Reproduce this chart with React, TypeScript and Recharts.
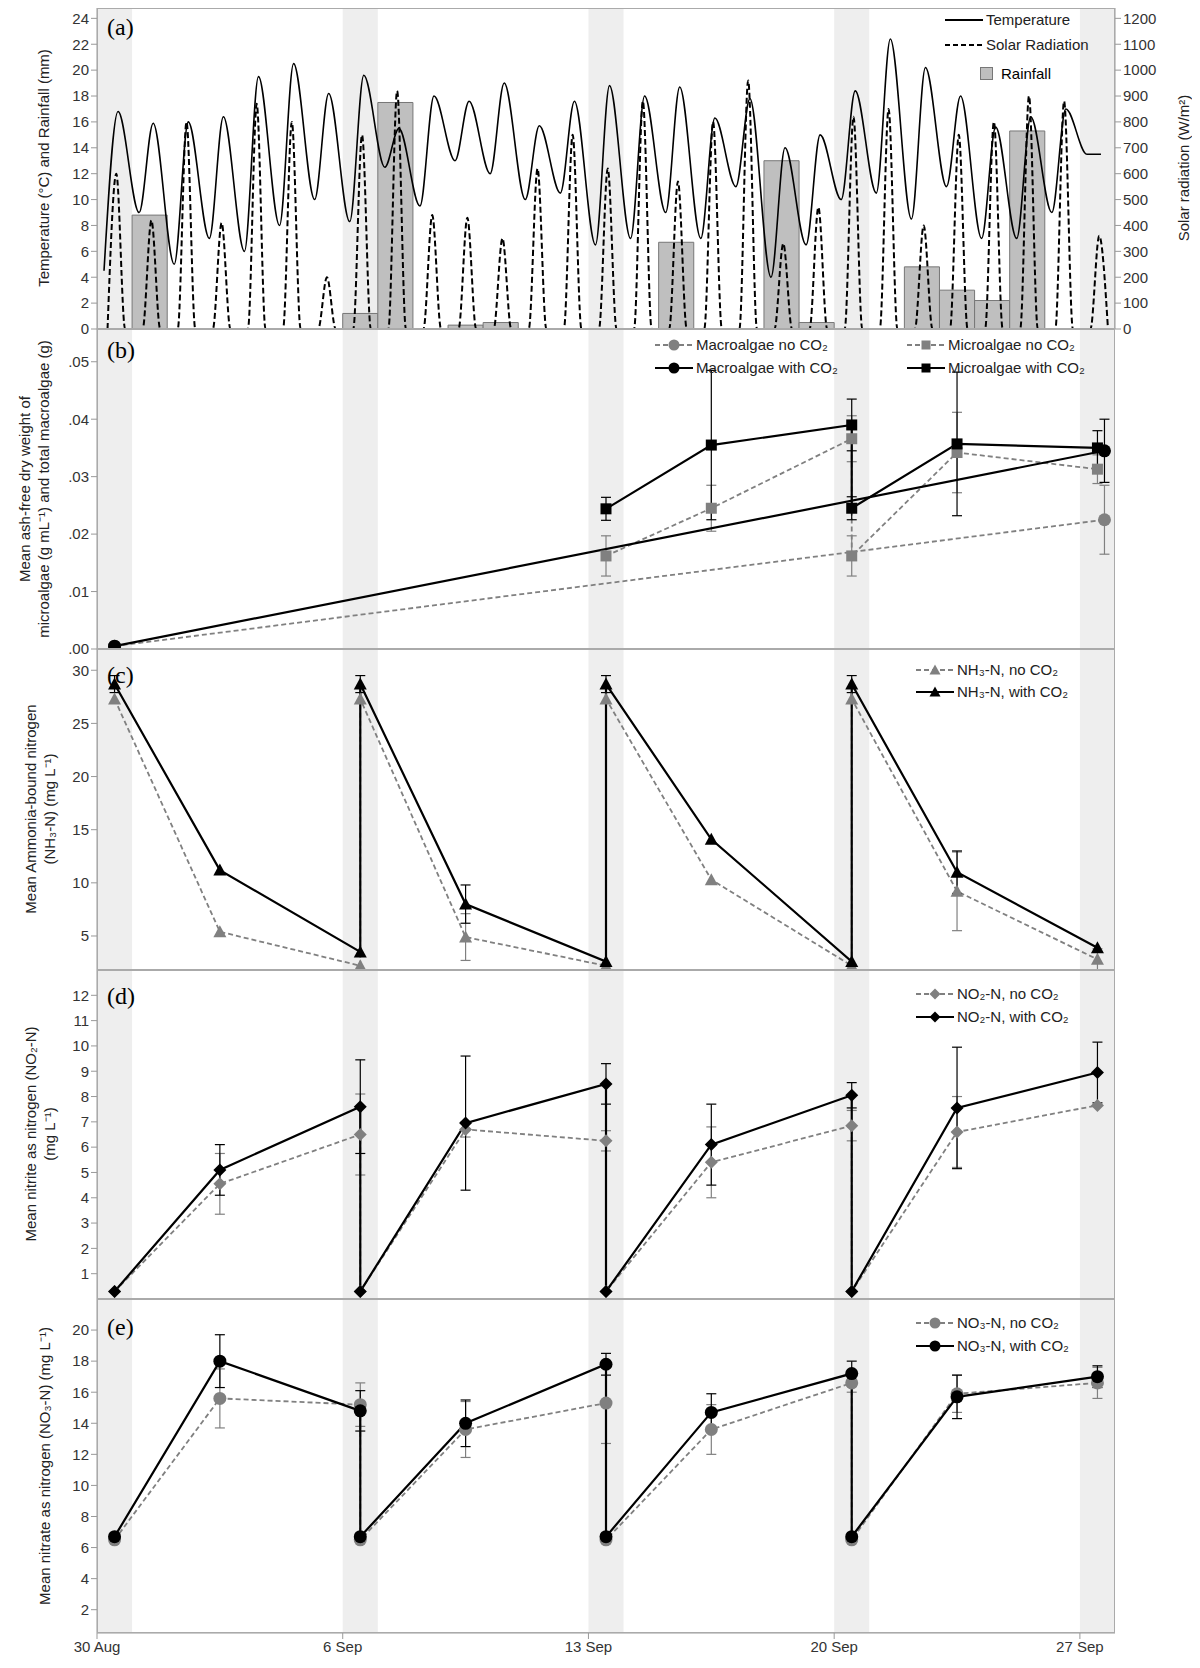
import React from 'react';
import {
  ComposedChart, LineChart, Line, XAxis, YAxis, ReferenceArea, ErrorBar,
} from 'recharts';

// shared time axis: days after 30 Aug
const dayTicks = [0, 7, 14, 21, 28];
const dayLabels = ['30 Aug', '6 Sep', '13 Sep', '20 Sep', '27 Sep'];
const bands = [[0, 1], [7, 8], [14, 15], [21, 22], [28, 29]];

// (a) weather, read per day
const tempMin = [4.5, 9, 5, 7, 6, 8, 10, 8.3, 12.5, 9.5, 13, 12, 10, 10.5, 6.5, 7, 9, 7, 11, 4, 6.5, 10, 10.5, 8.5, 11, 7, 7, 9, 13.5];
const tempMax = [16.8, 15.9, 16, 16.4, 19.5, 20.5, 18.2, 19.6, 15.5, 18, 17.6, 19, 15.7, 17.6, 18.8, 18, 18.7, 16.3, 17.8, 14, 15, 18.4, 22.4, 20.2, 18, 15.6, 16.4, 17, 13.5];
const solarPeak = [600, 420, 800, 410, 870, 800, 200, 750, 920, 440, 430, 350, 620, 750, 620, 880, 570, 800, 960, 330, 470, 820, 850, 400, 750, 800, 900, 880, 360];
const rainDays = [1, 7, 8, 10, 11, 16, 19, 20, 23, 24, 25, 26];
const rainMm = [8.8, 1.2, 17.5, 0.3, 0.5, 6.7, 13, 0.5, 4.8, 3, 2.2, 15.3];

// (b) biomass
const macroT = [0.5, 28.7];
const macroNo = [0.0005, 0.0225];
const macroNoErr = [0, 0.006];
const macroCo2 = [0.0005, 0.0345];
const macroCo2Err = [0, 0.0055];
const microT = [14.5, 17.5, 21.5, 21.5, 24.5, 28.5];
const microNo = [0.0162, 0.0245, 0.0366, 0.0162, 0.0342, 0.0313];
const microNoErr = [0.0035, 0.004, 0.004, 0.0035, 0.007, 0.0025];
const microCo2 = [0.0244, 0.0355, 0.039, 0.0245, 0.0357, 0.035];
const microCo2Err = [0.002, 0.013, 0.0045, 0.002, 0.0125, 0.003];

// (c)-(e) nitrogen, sampled twice on refill days
const sampT = [0.5, 3.5, 7.5, 7.5, 10.5, 14.5, 14.5, 17.5, 21.5, 21.5, 24.5, 28.5];
const nhNo = [27.3, 5.4, 2.2, 27.3, 4.9, 2.2, 27.3, 10.3, 2.2, 27.3, 9.2, 2.8];
const nhNoErr = [0, 0, 0, 0, 2.2, 0, 0, 0, 0, 0, 3.7, 1];
const nhCo2 = [28.7, 11.2, 3.5, 28.7, 8, 2.6, 28.7, 14.1, 2.6, 28.7, 11, 3.9];
const nhCo2Err = [0.8, 0, 0, 0.8, 1.8, 0, 0.8, 0, 0, 0.8, 2, 0];
const no2No = [0.3, 4.55, 6.5, 0.3, 6.7, 6.25, 0.3, 5.4, 6.85, 0.3, 6.6, 7.65];
const no2NoErr = [0, 1.2, 1.6, 0, 0.3, 0.4, 0, 1.4, 0.6, 0, 1.4, 0];
const no2Co2 = [0.3, 5.1, 7.6, 0.3, 6.95, 8.5, 0.3, 6.1, 8.05, 0.3, 7.55, 8.95];
const no2Co2Err = [0, 1, 1.85, 0, 2.65, 0.8, 0, 1.6, 0.5, 0, 2.4, 1.2];
const no3No = [6.5, 15.6, 15.2, 6.5, 13.6, 15.3, 6.5, 13.6, 16.6, 6.5, 15.9, 16.6];
const no3NoErr = [0, 1.9, 1.4, 0, 1.8, 2.6, 0, 1.6, 0.6, 0, 1.2, 1];
const no3Co2 = [6.7, 18, 14.8, 6.7, 14, 17.8, 6.7, 14.7, 17.2, 6.7, 15.7, 17];
const no3Co2Err = [0, 1.7, 1.3, 0, 1.5, 0.7, 0, 1.2, 0.8, 0, 1.4, 0.7];

const zip = (t: number[], v: number[], e: number[]) => t.map((x, i) => ({ t: x, v: v[i], e: e[i] }));

const weather: any[] = [];
tempMin.forEach((_, d) => {
  weather.push({ t: d + 0.2, temp: tempMin[d] });
  weather.push({ t: d + 0.3, solar: 0 });
  weather.push({ t: d + 0.55, solar: solarPeak[d] });
  weather.push({ t: d + 0.6, temp: tempMax[d] });
  weather.push({ t: d + 0.8, solar: 0 });
});

const W = 1192;
const LEFT = 89;
const RIGHT = 85;
const PAD = 10; // room below each plot so the lowest tick label is not clipped
const tick = { fontSize: 15, fill: '#333', fontFamily: 'Liberation Sans' };
const axisLine = { stroke: '#999' };
const GREY = '#808080';

const Bands = () => bands.map(([a, b]) => (
  <ReferenceArea key={a} x1={a} x2={b} fill="#eeeeee" fillOpacity={1} stroke="none" ifOverflow="hidden" />
));

const dot = (shape: string, color: string, size = 6.5) => (p: any) => {
  const { cx, cy, key } = p;
  if (cx == null || cy == null) return <g key={key} />;
  if (shape === 'circle') return <circle key={key} cx={cx} cy={cy} r={size} fill={color} />;
  if (shape === 'square') return <rect key={key} x={cx - size + 1} y={cy - size + 1} width={(size - 1) * 2} height={(size - 1) * 2} fill={color} />;
  if (shape === 'tri') return <polygon key={key} points={`${cx},${cy - size} ${cx - size},${cy + size - 1} ${cx + size},${cy + size - 1}`} fill={color} />;
  return <polygon key={key} points={`${cx},${cy - size} ${cx + size},${cy} ${cx},${cy + size} ${cx - size},${cy}`} fill={color} />;
};

const Series = (data: any[], color: string, shape: string, dashed: boolean, name: string) => (
  <Line key={name} data={data} dataKey="v" type="linear" stroke={color} strokeWidth={dashed ? 1.8 : 2.2}
    strokeDasharray={dashed ? '5 3' : undefined} dot={dot(shape, color)} isAnimationActive={false}>
    <ErrorBar dataKey="e" direction="y" stroke={color} width={5} strokeWidth={1.2} />
  </Line>
);

const Panel = ({ top, height, domain, ticks, fmt, children, bottom }: any) => {
  const h = height + (bottom ? 40 : PAD);
  return (
    <div style={{ position: 'absolute', left: 0, top, width: W, height: h }}>
      <LineChart width={W} height={h} margin={{ top: 0, right: RIGHT, bottom: bottom ? 0 : PAD, left: 0 }}>
        <XAxis type="number" dataKey="t" domain={[0, 29]} ticks={dayTicks} hide={!bottom} height={40} interval={0}
          tickFormatter={(v: number) => dayLabels[dayTicks.indexOf(v)]} tick={tick} axisLine={axisLine} tickLine={axisLine} allowDuplicatedCategory={false} />
        <YAxis type="number" domain={domain} ticks={ticks} width={LEFT} tick={tick} axisLine={axisLine} tickLine={axisLine}
          tickFormatter={fmt} allowDataOverflow interval={0} />
        {Bands()}
        {children}
      </LineChart>
    </div>
  );
};

const Frame = ({ top, height }: any) => (
  <div style={{ position: 'absolute', left: LEFT, top, width: W - LEFT - RIGHT, height, border: '1px solid #aaa', boxSizing: 'border-box', pointerEvents: 'none' }} />
);

const Tag = ({ top, text }: any) => (
  <div style={{ position: 'absolute', left: LEFT + 10, top, fontFamily: 'Liberation Serif', fontSize: 24 }}>{text}</div>
);

const YLabel = ({ cy, lines, left = 30 }: any) => (
  <div style={{ position: 'absolute', left: left, top: cy, width: 0, height: 0 }}>
    <div style={{ position: 'absolute', transform: 'translate(-50%,-50%) rotate(-90deg)', whiteSpace: 'nowrap', textAlign: 'center',
      fontFamily: 'Liberation Sans', fontSize: 15, lineHeight: '19px', color: '#222' }}>
      {lines.map((l: string) => <div key={l}>{l}</div>)}
    </div>
  </div>
);

const LegendItem = ({ x, y, color, dashed, shape, text }: any) => (
  <div style={{ position: 'absolute', left: x, top: y, display: 'flex', alignItems: 'center', fontFamily: 'Liberation Sans', fontSize: 15, color: '#222' }}>
    <svg width={40} height={16}>
      <line x1={1} x2={39} y1={8} y2={8} stroke={color} strokeWidth={2} strokeDasharray={dashed ? '5 3' : undefined} />
      {shape && dot(shape, color, 5.5)({ cx: 20, cy: 8, key: 'k' })}
    </svg>
    <span style={{ marginLeft: 2 }}>{text}</span>
  </div>
);

export default function App() {
  return (
    <div style={{ position: 'relative', width: W, height: 1660 }}>
      {/* (a) */}
      <div style={{ position: 'absolute', left: 0, top: 0, width: W, height: 321 + PAD }}>
        <ComposedChart width={W} height={321 + PAD} data={weather} margin={{ top: 0, right: 0, bottom: PAD, left: 0 }}>
          <XAxis type="number" dataKey="t" domain={[0, 29]} hide />
          <YAxis yAxisId="l" type="number" domain={[0, 24.8]} ticks={[0, 2, 4, 6, 8, 10, 12, 14, 16, 18, 20, 22, 24]} width={LEFT} tick={tick} axisLine={axisLine} tickLine={axisLine} interval={0} />
          <YAxis yAxisId="r" orientation="right" type="number" domain={[0, 1240]} ticks={[0, 100, 200, 300, 400, 500, 600, 700, 800, 900, 1000, 1100, 1200]} width={RIGHT} tick={{ ...tick, textAnchor: 'start' }} axisLine={axisLine} tickLine={axisLine} interval={0} />
          {bands.map(([a, b]) => <ReferenceArea key={a} yAxisId="l" x1={a} x2={b} fill="#eeeeee" fillOpacity={1} stroke="none" />)}
          {rainDays.map((d, i) => (
            <ReferenceArea key={'r' + d} yAxisId="l" x1={d} x2={d + 1} y1={0} y2={rainMm[i]} fill="#bfbfbf" fillOpacity={1} stroke="#777" />
          ))}
          <Line yAxisId="r" dataKey="solar" type="monotone" stroke="#000" strokeWidth={2} strokeDasharray="6 3" dot={false} connectNulls isAnimationActive={false} />
          <Line yAxisId="l" dataKey="temp" type="monotone" stroke="#000" strokeWidth={1.6} dot={false} connectNulls isAnimationActive={false} />
        </ComposedChart>
      </div>
      <Frame top={0} height={321} />
      <Tag top={6} text="(a)" />
      <YLabel cy={160} lines={['Temperature (°C) and Rainfall (mm)']} left={35} />
      <YLabel cy={160} lines={['Solar radiation (W/m²)']} left={1175} />
      <LegendItem x={936} y={3} color="#000" text="Temperature" />
      <LegendItem x={936} y={28} color="#000" dashed text="Solar Radiation" />
      <div style={{ position: 'absolute', left: 972, top: 57, display: 'flex', alignItems: 'center', fontFamily: 'Liberation Sans', fontSize: 15 }}>
        <div style={{ width: 11, height: 11, background: '#bfbfbf', border: '1px solid #777', marginRight: 8 }} />Rainfall
      </div>

      {/* (b) */}
      <Panel top={321} height={320} domain={[0, 0.0557]} ticks={[0, 0.01, 0.02, 0.03, 0.04, 0.05]} fmt={(v: number) => v.toFixed(2).replace(/^0/, '')}>
        {Series(zip(macroT, macroNo, macroNoErr), GREY, 'circle', true, 'macroNo')}
        {Series(zip(microT, microNo, microNoErr), GREY, 'square', true, 'microNo')}
        {Series(zip(macroT, macroCo2, macroCo2Err), '#000', 'circle', false, 'macroCo2')}
        {Series(zip(microT, microCo2, microCo2Err), '#000', 'square', false, 'microCo2')}
      </Panel>
      <Frame top={321} height={320} />
      <Tag top={329} text="(b)" />
      <YLabel cy={481} lines={['Mean ash-free dry weight of', 'microalgae (g mL⁻¹) and total macroalgae (g)']} left={26} />
      <LegendItem x={646} y={328} color={GREY} dashed shape="circle" text="Macroalgae no CO₂" />
      <LegendItem x={646} y={351} color="#000" shape="circle" text="Macroalgae with CO₂" />
      <LegendItem x={898} y={328} color={GREY} dashed shape="square" text="Microalgae no CO₂" />
      <LegendItem x={898} y={351} color="#000" shape="square" text="Microalgae with CO₂" />

      {/* (c) */}
      <Panel top={641} height={321} domain={[1.8, 32]} ticks={[5, 10, 15, 20, 25, 30]}>
        {Series(zip(sampT, nhNo, nhNoErr), GREY, 'tri', true, 'nhNo')}
        {Series(zip(sampT, nhCo2, nhCo2Err), '#000', 'tri', false, 'nhCo2')}
      </Panel>
      <Frame top={641} height={321} />
      <Tag top={654} text="(c)" />
      <YLabel cy={801} lines={['Mean Ammonia-bound nitrogen', '(NH₃-N) (mg L⁻¹)']} left={32} />
      <LegendItem x={907} y={653} color={GREY} dashed shape="tri" text="NH₃-N, no CO₂" />
      <LegendItem x={907} y={675} color="#000" shape="tri" text="NH₃-N, with CO₂" />

      {/* (d) */}
      <Panel top={962} height={329} domain={[0, 13]} ticks={[1, 2, 3, 4, 5, 6, 7, 8, 9, 10, 11, 12]}>
        {Series(zip(sampT, no2No, no2NoErr), GREY, 'diamond', true, 'no2No')}
        {Series(zip(sampT, no2Co2, no2Co2Err), '#000', 'diamond', false, 'no2Co2')}
      </Panel>
      <Frame top={962} height={329} />
      <Tag top={975} text="(d)" />
      <YLabel cy={1126} lines={['Mean nitrite as nitrogen (NO₂-N)', '(mg L⁻¹)']} left={32} />
      <LegendItem x={907} y={977} color={GREY} dashed shape="diamond" text="NO₂-N, no CO₂" />
      <LegendItem x={907} y={1000} color="#000" shape="diamond" text="NO₂-N, with CO₂" />

      {/* (e) */}
      <Panel top={1291} height={334} domain={[0.5, 22]} ticks={[2, 4, 6, 8, 10, 12, 14, 16, 18, 20]} bottom>
        {Series(zip(sampT, no3No, no3NoErr), GREY, 'circle', true, 'no3No')}
        {Series(zip(sampT, no3Co2, no3Co2Err), '#000', 'circle', false, 'no3Co2')}
      </Panel>
      <Frame top={1291} height={334} />
      <Tag top={1306} text="(e)" />
      <YLabel cy={1458} lines={['Mean nitrate as nitrogen (NO₃-N) (mg L⁻¹)']} left={36} />
      <LegendItem x={907} y={1306} color={GREY} dashed shape="circle" text="NO₃-N, no CO₂" />
      <LegendItem x={907} y={1329} color="#000" shape="circle" text="NO₃-N, with CO₂" />
    </div>
  );
}
